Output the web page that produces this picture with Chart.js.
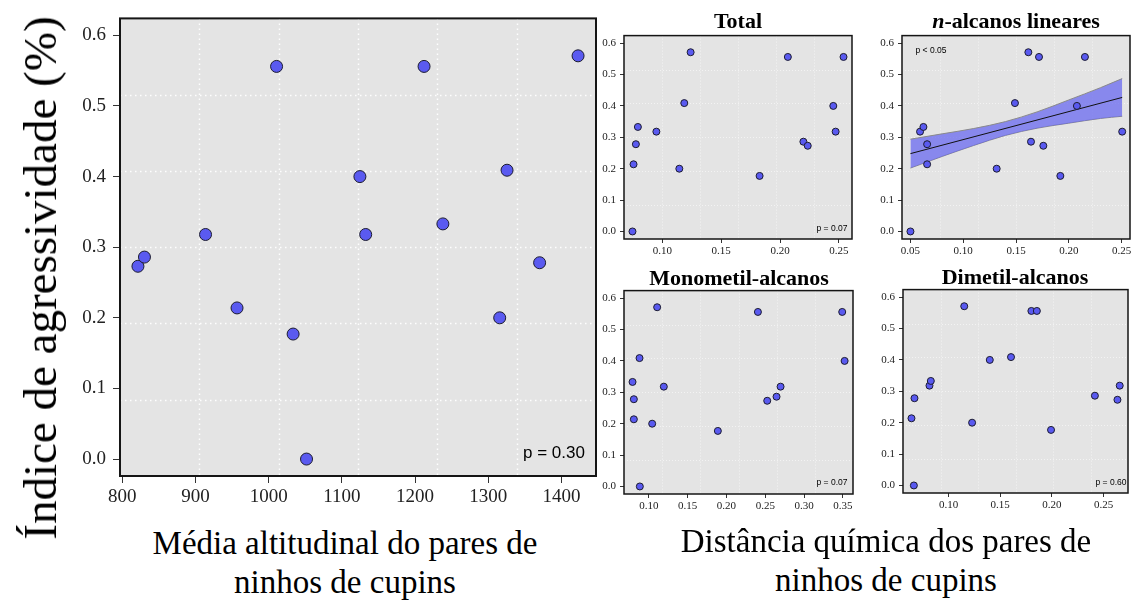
<!DOCTYPE html>
<html>
<head>
<meta charset="utf-8">
<script src="https://cdn.jsdelivr.net/npm/chart.js@4.4.1/dist/chart.umd.min.js"></script>
<style>
  body { margin: 0; background: #fff; }
  #wrap { position: relative; width: 1137px; height: 600px; overflow: hidden; }
  canvas { position: absolute; }
  .t { position: absolute; white-space: nowrap; transform: translate(-50%, -50%); color: #000; }
  .serif { font-family: "Liberation Serif", "Times New Roman", serif; }
  .ttl { font-family: "Liberation Serif", serif; font-weight: bold; font-size: 22px; }
  .pv { font-family: "Liberation Sans", Arial, sans-serif; color: #000; }
</style>
</head>
<body>
<div id="wrap">
  <canvas id="cMain" width="565" height="520" style="left:40px;top:0px"></canvas>
  <canvas id="cTotal" width="270" height="240" style="left:590px;top:25px"></canvas>
  <canvas id="cNalc" width="270" height="240" style="left:866px;top:25px"></canvas>
  <canvas id="cMono" width="270" height="240" style="left:590px;top:280px"></canvas>
  <canvas id="cDim" width="270" height="240" style="left:866px;top:279px"></canvas>

  <div class="t serif" style="left:40px;top:278px;font-size:47px;transform:translate(-50%,-50%) rotate(-90deg)">Índice de agressividade (%)</div>
  <div class="t serif" style="left:345px;top:543px;font-size:33px">Média altitudinal do pares de</div>
  <div class="t serif" style="left:345px;top:582px;font-size:33px">ninhos de cupins</div>
  <div class="t serif" style="left:886px;top:541px;font-size:33px">Distância química dos pares de</div>
  <div class="t serif" style="left:886px;top:580px;font-size:33px">ninhos de cupins</div>

  <div class="t ttl" style="left:738px;top:21px">Total</div>
  <div class="t ttl" style="left:1016px;top:21px"><i>n</i>-alcanos lineares</div>
  <div class="t ttl" style="left:739px;top:278px">Monometil-alcanos</div>
  <div class="t ttl" style="left:1015px;top:277px">Dimetil-alcanos</div>

  <div class="t pv" style="left:554px;top:453px;font-size:17px">p = 0.30</div>
  <div class="t pv" style="left:832px;top:228px;font-size:8.5px">p = 0.07</div>
  <div class="t pv" style="left:931px;top:50px;font-size:8.5px">p &lt; 0.05</div>
  <div class="t pv" style="left:832px;top:482px;font-size:8.5px">p = 0.07</div>
  <div class="t pv" style="left:1111px;top:482px;font-size:8.5px">p = 0.60</div>
</div>

<script>
// aggression index of each nest pair (same 15 pairs in every panel)
const altitude = [821.5, 830.4, 913.8, 956.8, 1010.8, 1033.4, 1051.7, 1124.6, 1132.5, 1212.2, 1237.9, 1315.5, 1325.5, 1370, 1422.5];
const altAggr = [0.273, 0.286, 0.318, 0.214, 0.556, 0.177, 0, 0.4, 0.318, 0.556, 0.333, 0.2, 0.409, 0.278, 0.571];

const totalDist = [0.0746, 0.0755, 0.0775, 0.0792, 0.0949, 0.1144, 0.1186, 0.124, 0.1826, 0.2066, 0.2198, 0.2235, 0.2452, 0.2472, 0.2539];
const totalAggr = [0, 0.214, 0.278, 0.333, 0.318, 0.2, 0.409, 0.571, 0.177, 0.556, 0.286, 0.273, 0.4, 0.318, 0.556];

const nalcDist = [0.05, 0.0591, 0.0623, 0.0658, 0.0658, 0.1317, 0.149, 0.1617, 0.1642, 0.1718, 0.1759, 0.192, 0.2077, 0.2153, 0.2506];
const nalcAggr = [0, 0.318, 0.333, 0.278, 0.214, 0.2, 0.409, 0.571, 0.286, 0.556, 0.273, 0.177, 0.4, 0.556, 0.318];

const monoDist = [0.079, 0.0807, 0.0807, 0.088, 0.0884, 0.1043, 0.1107, 0.1193, 0.1889, 0.2405, 0.2525, 0.2645, 0.2697, 0.3491, 0.3522];
const monoAggr = [0.333, 0.278, 0.214, 0.409, 0, 0.2, 0.571, 0.318, 0.177, 0.556, 0.273, 0.286, 0.318, 0.556, 0.4];

const dimDist = [0.0642, 0.0665, 0.0671, 0.0816, 0.0829, 0.1152, 0.1228, 0.1399, 0.1604, 0.1801, 0.1854, 0.1991, 0.2415, 0.2633, 0.2655];
const dimAggr = [0.214, 0, 0.278, 0.318, 0.333, 0.571, 0.2, 0.4, 0.409, 0.556, 0.556, 0.177, 0.286, 0.273, 0.318];

// linear fit + confidence band for n-alcanos
const fitX = [0.05, 0.2506];
const fitY = [0.248, 0.427];
const bandX = [0.05, 0.08, 0.11, 0.14, 0.17, 0.20, 0.23, 0.2506];
const bandHi = [0.294, 0.311, 0.328, 0.350, 0.381, 0.419, 0.458, 0.487];
const bandLo = [0.202, 0.239, 0.274, 0.306, 0.329, 0.345, 0.360, 0.367];

// tick labels
const aggrTicks = [0, 0.1, 0.2, 0.3, 0.4, 0.5, 0.6];
const altTicks = [800, 900, 1000, 1100, 1200, 1300, 1400];
const totalTicks = [0.10, 0.15, 0.20, 0.25];
const nalcTicks = [0.05, 0.10, 0.15, 0.20, 0.25];
const monoTicks = [0.10, 0.15, 0.20, 0.25, 0.30, 0.35];
const dimTicks = [0.10, 0.15, 0.20, 0.25];

const PT_FILL = '#5a5af0';
const PT_EDGE = '#1c1c30';

// grey panel, dotted grid in sixths, black frame
const framePlugin = {
  id: 'frame',
  beforeDraw(chart, args, o) {
    const a = chart.chartArea, ctx = chart.ctx;
    ctx.save();
    ctx.fillStyle = '#e4e4e4';
    ctx.fillRect(a.left, a.top, a.width, a.height);
    ctx.restore();
  },
  beforeDatasetsDraw(chart, args, o) {
    const a = chart.chartArea, ctx = chart.ctx;
    ctx.save();
    ctx.strokeStyle = 'rgba(255,255,255,' + o.gridAlpha + ')';
    ctx.lineWidth = o.gridWidth;
    ctx.setLineDash(o.dash);
    for (let i = 1; i < 6; i++) {
      const x = Math.round(a.left + a.width * i / 6) + 0.5;
      const y = Math.round(a.top + a.height * i / 6) + 0.5;
      ctx.beginPath(); ctx.moveTo(x, a.top); ctx.lineTo(x, a.bottom); ctx.stroke();
      ctx.beginPath(); ctx.moveTo(a.left, y); ctx.lineTo(a.right, y); ctx.stroke();
    }
    ctx.restore();
  },
  afterDatasetsDraw(chart, args, o) {
    const a = chart.chartArea, ctx = chart.ctx;
    ctx.save();
    ctx.strokeStyle = '#151515';
    ctx.lineWidth = o.lineWidth;
    ctx.strokeRect(a.left, a.top, a.width, a.height);
    ctx.restore();
  }
};

function pts(xs, ys) {
  return xs.map((x, i) => ({ x: x, y: ys[i] }));
}

function makePanel(id, xs, ys, cfg) {
  const datasets = [{
    data: pts(xs, ys),
    backgroundColor: PT_FILL,
    borderColor: PT_EDGE,
    borderWidth: 1,
    pointRadius: cfg.r,
    clip: false
  }].concat(cfg.extra || []);

  return new Chart(document.getElementById(id), {
    type: 'scatter',
    data: { datasets: datasets },
    plugins: [framePlugin],
    options: {
      responsive: false,
      animation: false,
      devicePixelRatio: 1,
      layout: { padding: { left: 0, right: cfg.padR, top: cfg.padT, bottom: 0 } },
      plugins: {
        legend: { display: false },
        tooltip: { enabled: false },
        frame: { lineWidth: cfg.frameW, gridWidth: cfg.gridW, gridAlpha: cfg.gridA, dash: cfg.dash }
      },
      scales: {
        x: {
          type: 'linear',
          min: cfg.xmin, max: cfg.xmax,
          afterBuildTicks: s => { s.ticks = cfg.xTicks.map(v => ({ value: v })); },
          afterFit: s => { s.height = cfg.xH; },
          grid: { drawOnChartArea: false, drawTicks: true, tickLength: cfg.tick, tickColor: '#333', tickWidth: 1 },
          border: { display: false },
          ticks: {
            autoSkip: false, maxRotation: 0, padding: cfg.xPad, color: '#222',
            font: { family: 'Liberation Serif', size: cfg.font },
            callback: v => v.toFixed(cfg.xDec)
          }
        },
        y: {
          type: 'linear',
          min: -0.024, max: 0.624,
          afterBuildTicks: s => { s.ticks = aggrTicks.map(v => ({ value: v })); },
          afterFit: s => { s.width = cfg.yW; },
          grid: { drawOnChartArea: false, drawTicks: true, tickLength: cfg.tick, tickColor: '#333', tickWidth: 1 },
          border: { display: false },
          ticks: {
            padding: cfg.yPad, color: '#222',
            font: { family: 'Liberation Serif', size: cfg.font },
            callback: v => v.toFixed(1)
          }
        }
      }
    }
  });
}

const small = { r: 3.5, font: 11, tick: 4, xPad: 2, yPad: 4, xH: 26, padT: 9, frameW: 1.5, gridW: 1, gridA: 0.55, dash: [1, 2], xDec: 2 };

makePanel('cMain', altitude, altAggr, {
  r: 6, font: 19, tick: 7, xPad: 3, yPad: 7, xH: 44, yW: 80, padR: 9, padT: 18,
  frameW: 2, gridW: 1.5, gridA: 0.95, dash: [1.5, 3.5],
  xmin: 797, xmax: 1447, xTicks: altTicks, xDec: 0
});

makePanel('cTotal', totalDist, totalAggr, Object.assign({}, small, {
  yW: 34, padR: 8, xmin: 0.0674, xmax: 0.2611, xTicks: totalTicks
}));

makePanel('cNalc', nalcDist, nalcAggr, Object.assign({}, small, {
  yW: 36, padR: 6, xmin: 0.042, xmax: 0.258, xTicks: nalcTicks,
  extra: [
    { type: 'line', data: pts(fitX, fitY), borderColor: '#111', borderWidth: 1, pointRadius: 0, fill: false },
    { type: 'line', data: pts(bandX, bandHi), borderColor: '#8a8a8a', borderWidth: 1, pointRadius: 0,
      cubicInterpolationMode: 'monotone', fill: '+1', backgroundColor: 'rgba(100,100,240,0.72)' },
    { type: 'line', data: pts(bandX, bandLo), borderColor: '#8a8a8a', borderWidth: 1, pointRadius: 0,
      cubicInterpolationMode: 'monotone', fill: false }
  ]
}));

makePanel('cMono', monoDist, monoAggr, Object.assign({}, small, {
  yW: 34, padR: 7, xmin: 0.068, xmax: 0.363, xTicks: monoTicks
}));

makePanel('cDim', dimDist, dimAggr, Object.assign({}, small, {
  yW: 37, padR: 8, xmin: 0.056, xmax: 0.2735, xTicks: dimTicks
}));
</script>
</body>
</html>
